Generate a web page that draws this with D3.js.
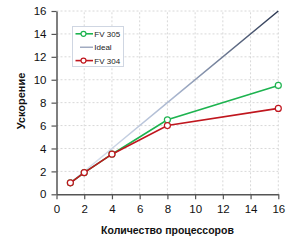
<!DOCTYPE html>
<html><head><meta charset="utf-8">
<script src="https://cdn.jsdelivr.net/npm/d3@7"></script>
<style>body{margin:0;background:#fff}svg{display:block}</style>
</head><body><svg id="c" width="300" height="250"></svg>
<script>
const processors = [1, 2, 4, 8, 16];
const ideal = [1, 2, 4, 8, 16];
const fv305 = [1, 1.9, 3.5, 6.5, 9.5];
const fv304 = [1, 1.9, 3.5, 6.0, 7.5];
const xTicks = [0, 2, 4, 6, 8, 10, 12, 14, 16];
const yTicks = [0, 2, 4, 6, 8, 10, 12, 14, 16];
const xTitle = "Количество процессоров";
const yTitle = "Ускорение";
const legendLabels = ["FV 305", "Ideal", "FV 304"];

const svg = d3.select("#c");
const x = d3.scaleLinear().domain([0, 16]).range([56.5, 278.3]);
const y = d3.scaleLinear().domain([0, 16]).range([194.3, 11]);
const font = "Arial, 'Liberation Sans', sans-serif";

// grid
svg.append("g").selectAll("line").data(xTicks.filter(d => d > 0)).join("line")
  .attr("x1", d => x(d)).attr("x2", d => x(d)).attr("y1", y(0)).attr("y2", y(16))
  .attr("stroke", "#d8d8d8").attr("stroke-dasharray", "2,2");
svg.append("g").selectAll("line").data(yTicks.filter(d => d > 0)).join("line")
  .attr("y1", d => y(d)).attr("y2", d => y(d)).attr("x1", x(0)).attr("x2", x(16))
  .attr("stroke", "#d8d8d8").attr("stroke-dasharray", "2,2");

// axes
const xa = svg.append("g").attr("transform", `translate(0,${y(0)})`)
  .call(d3.axisBottom(x).tickValues(xTicks).tickSize(5).tickPadding(6).tickSizeOuter(0));
const ya = svg.append("g").attr("transform", `translate(${x(0)},0)`)
  .call(d3.axisLeft(y).tickValues(yTicks).tickSize(5).tickPadding(5).tickSizeOuter(0));
[xa, ya].forEach(a => {
  a.select(".domain").attr("stroke", "#555").attr("stroke-width", 1.5);
  a.selectAll(".tick line").attr("stroke", "#555").attr("stroke-width", 1.2);
  a.selectAll("text").attr("font-family", font).attr("font-size", 11.5).attr("fill", "#111");
});

// ideal gradient
const defs = svg.append("defs");
const grad = defs.append("linearGradient").attr("id", "ig").attr("gradientUnits", "userSpaceOnUse")
  .attr("x1", x(1)).attr("y1", y(1)).attr("x2", x(16)).attr("y2", y(16));
grad.append("stop").attr("offset", "0").attr("stop-color", "#e2eaf5");
grad.append("stop").attr("offset", "0.5").attr("stop-color", "#a9b6cf");
grad.append("stop").attr("offset", "1").attr("stop-color", "#2a3650");

const line = d3.line().x((d, i) => x(processors[i])).y(d => y(d));
svg.append("path").datum(ideal).attr("d", line).attr("fill", "none")
  .attr("stroke", "url(#ig)").attr("stroke-width", 1.5);

function series(vals, color) {
  svg.append("path").datum(vals).attr("d", line).attr("fill", "none")
    .attr("stroke", color).attr("stroke-width", 1.6);
  svg.append("g").selectAll("circle").data(vals).join("circle")
    .attr("cx", (d, i) => x(processors[i])).attr("cy", d => y(d)).attr("r", 3)
    .attr("fill", "#fff").attr("stroke", color).attr("stroke-width", 1.2);
}
series(fv305, "#1db34f");
series(fv304, "#c0161e");

// legend
const lg = svg.append("g");
lg.append("rect").attr("x", 72.5).attr("y", 26.5).attr("width", 51).attr("height", 40)
  .attr("fill", "#fff").attr("stroke", "#cfd6e2").attr("stroke-width", 1);
const lcol = ["#1db34f", "#8a96b2", "#c0161e"];
legendLabels.forEach((t, i) => {
  const yy = 33.8 + i * 13.4;
  lg.append("line").attr("x1", i === 1 ? 80 : 75.5).attr("x2", 93).attr("y1", yy).attr("y2", yy)
    .attr("stroke", lcol[i]).attr("stroke-width", i === 1 ? 1.2 : 1.6);
  if (i !== 1) lg.append("circle").attr("cx", 83.5).attr("cy", yy).attr("r", 2.5)
    .attr("fill", "#fff").attr("stroke", lcol[i]).attr("stroke-width", 1.2);
  lg.append("text").attr("x", 94.3).attr("y", yy + 2.9).text(t)
    .attr("font-family", font).attr("font-size", 8).attr("fill", "#222");
});

// titles
svg.append("text").attr("x", 167.5).attr("y", 234).attr("text-anchor", "middle")
  .attr("font-family", font).attr("font-weight", "bold").attr("font-size", 10.5).attr("fill", "#111").text(xTitle);
svg.append("text").attr("transform", "translate(25,101) rotate(-90)").attr("text-anchor", "middle")
  .attr("font-family", font).attr("font-weight", "bold").attr("font-size", 11).attr("fill", "#111").text(yTitle);
</script></body></html>
